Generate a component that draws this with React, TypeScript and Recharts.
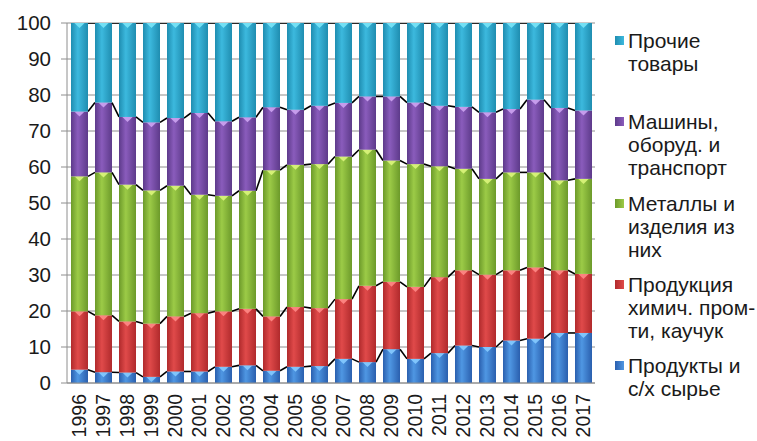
import { BarChart, Bar, XAxis, YAxis, CartesianGrid } from "recharts";

const years = [
  "1996", "1997", "1998", "1999", "2000", "2001", "2002", "2003", "2004", "2005", "2006",
  "2007", "2008", "2009", "2010", "2011", "2012", "2013", "2014", "2015", "2016", "2017",
];

// shares, % (bottom to top of the stack)
const produce = [3.7, 3.0, 2.9, 1.7, 3.2, 3.2, 4.5, 4.9, 3.4, 4.5, 4.7, 6.7, 5.8, 9.4, 6.7, 8.3, 10.4, 10.0, 11.8, 12.3, 13.9, 13.9];
const chemical = [16.2, 15.8, 14.2, 14.8, 15.3, 16.2, 15.4, 15.7, 15.1, 16.6, 16.1, 16.6, 21.2, 18.7, 20.0, 21.1, 20.9, 20.1, 19.5, 19.8, 17.4, 16.4];
const metals = [37.5, 39.7, 38.0, 37.0, 36.3, 32.9, 32.1, 32.8, 40.6, 39.5, 40.0, 39.6, 37.8, 33.7, 34.1, 30.8, 28.2, 26.6, 27.2, 26.4, 25.0, 26.4];
const machinery = [18.0, 19.4, 18.8, 18.9, 18.8, 22.7, 20.7, 20.4, 17.5, 15.3, 16.2, 14.9, 14.8, 17.8, 17.1, 16.8, 17.2, 18.5, 17.6, 20.2, 20.1, 19.0];
const other = [24.6, 22.1, 26.1, 27.6, 26.4, 25.0, 27.3, 26.2, 23.4, 24.1, 23.0, 22.2, 20.4, 20.4, 22.1, 23.0, 23.3, 24.8, 23.9, 21.3, 23.6, 24.3];

const yTicks = [0, 10, 20, 30, 40, 50, 60, 70, 80, 90, 100];

const series = [
  { key: "produce", values: produce, label: ["Продукты и", "с/х сырье"], dark: "#2a5fae", light: "#4f97e3", bevel: "#86cbff" },
  { key: "chemical", values: chemical, label: ["Продукция", "химич. пром-", "ти, каучук"], dark: "#b02a2c", light: "#e04a4a", bevel: "#ff8a86" },
  { key: "metals", values: metals, label: ["Металлы и", "изделия из", "них"], dark: "#6c9a2a", light: "#9ccb47", bevel: "#dcf57c" },
  { key: "machinery", values: machinery, label: ["Машины,", "оборуд. и", "транспорт"], dark: "#5d3a8a", light: "#8a5cbc", bevel: "#cda4f2" },
  { key: "other", values: other, label: ["Прочие", "товары"], dark: "#1f8db0", light: "#3cb9de", bevel: "#7ae4f7" },
];

const data = years.map((year, i) => {
  const row: Record<string, string | number> = { year };
  series.forEach((s) => (row[s.key] = s.values[i]));
  return row;
});

// running totals, used to draw the series lines between bars
const tops = series.map((_, si) =>
  years.map((_, i) => series.slice(0, si + 1).reduce((acc, s) => acc + s.values[i], 0))
);

const W = 757;
const H = 441;
const margin = { top: 23, right: 162, bottom: 0, left: 0 };
const Y_W = 67;
const X_H = 58;
const step = (W - margin.left - margin.right - Y_W) / years.length;

const font = "'Liberation Sans', Arial, sans-serif";

function makeShape(si: number) {
  const s = series[si];
  return (props: any) => {
    const { x, y, width, height, index } = props;
    if (!height || height <= 0) return <g />;
    const perUnit = height / s.values[index];
    const next = index + 1 < years.length ? y + (tops[si][index] - tops[si][index + 1]) * perUnit : null;
    const bw = Math.min(5, height);
    return (
      <g>
        <rect x={x} y={y} width={width} height={height} fill={`url(#grad-${s.key})`} />
        <polygon
          points={`${x + width * 0.2},${y} ${x + width * 0.8},${y} ${x + width / 2},${y + bw}`}
          fill={s.bevel}
          opacity={0.9}
        />
        {next !== null && (
          <line x1={x + width} y1={y} x2={x + step} y2={next} stroke="#000" strokeWidth={1.6} />
        )}
      </g>
    );
  };
}

const YearTick = (props: any) => {
  const { x, y, payload } = props;
  return (
    <text
      x={x}
      y={y}
      transform={`rotate(-90 ${x} ${y})`}
      textAnchor="end"
      dy="0.36em"
      fontSize={19.5}
      fontFamily={font}
      fill="#1a1a1a"
    >
      {payload.value}
    </text>
  );
};

export default function App() {
  return (
    <div style={{ position: "absolute", left: 0, top: 0, width: W, height: H, background: "#fff", overflow: "hidden" }}>
      <BarChart width={W} height={H} data={data} margin={margin} barSize={17}>
        <defs>
          {series.map((s) => (
            <linearGradient key={s.key} id={`grad-${s.key}`} x1="0" y1="0" x2="1" y2="0">
              <stop offset="0%" stopColor={s.dark} />
              <stop offset="40%" stopColor={s.light} />
              <stop offset="100%" stopColor={s.dark} />
            </linearGradient>
          ))}
        </defs>
        <CartesianGrid vertical={false} stroke="#8e8e8e" strokeWidth={1} />
        <XAxis
          dataKey="year"
          height={X_H}
          interval={0}
          tickLine={false}
          tickSize={0}
          tickMargin={11}
          axisLine={{ stroke: "#8e8e8e" }}
          tick={<YearTick />}
        />
        <YAxis
          width={Y_W}
          domain={[0, 100]}
          ticks={yTicks}
          interval={0}
          allowDataOverflow
          tickSize={6}
          tickMargin={10}
          tickLine={{ stroke: "#8e8e8e" }}
          axisLine={{ stroke: "#8e8e8e" }}
          tick={{ fontSize: 20.5, fontFamily: font, fill: "#1a1a1a" }}
        />
        {series.map((s, si) => (
          <Bar key={s.key} dataKey={s.key} stackId="a" isAnimationActive={false} shape={makeShape(si)} />
        ))}
      </BarChart>
      {[...series].reverse().map((s, i) => (
        <div
          key={s.key}
          style={{ position: "absolute", left: 615, top: 29 + i * 81.3, fontFamily: font, fontSize: 21, lineHeight: "23px", color: "#1a1a1a" }}
        >
          <span
            style={{
              position: "absolute",
              left: 0,
              top: 7,
              width: 9,
              height: 9,
              background: `linear-gradient(90deg, ${s.dark}, ${s.light})`,
            }}
          />
          <div style={{ marginLeft: 13, whiteSpace: "nowrap" }}>
            {s.label.map((line) => (
              <div key={line}>{line}</div>
            ))}
          </div>
        </div>
      ))}
    </div>
  );
}
